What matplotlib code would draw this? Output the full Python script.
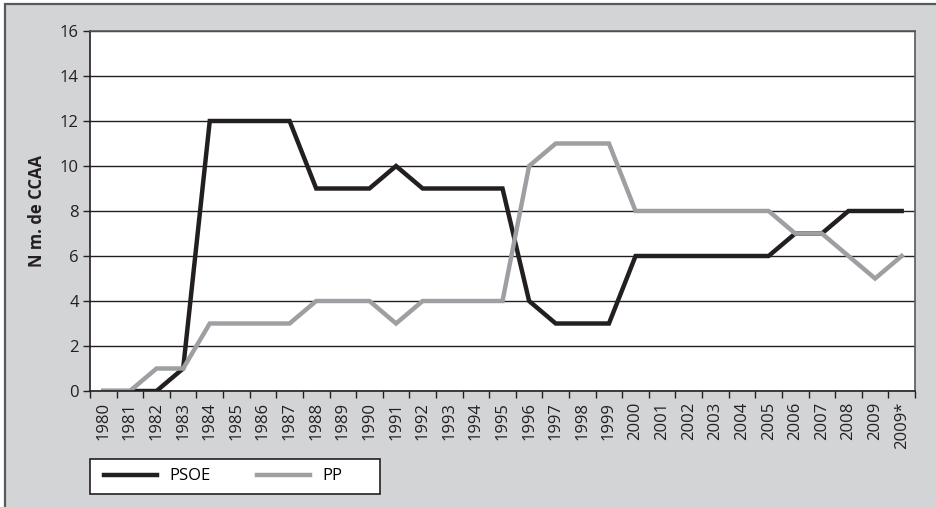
import matplotlib.pyplot as plt
from matplotlib.patches import Rectangle
import numpy as np

plt.rcParams['font.family'] = ['Open Sans', 'DejaVu Sans']

years = [str(y) for y in range(1980, 2010)] + ['2009*']
psoe = [0, 0, 0, 1, 12, 12, 12, 12, 9, 9, 9, 10, 9, 9, 9, 9, 4, 3, 3, 3,
        6, 6, 6, 6, 6, 6, 7, 7, 8, 8, 8]
pp = [0, 0, 1, 1, 3, 3, 3, 3, 4, 4, 4, 3, 4, 4, 4, 4, 10, 11, 11, 11,
      8, 8, 8, 8, 8, 8, 7, 7, 6, 5, 6]
yticks = [0, 2, 4, 6, 8, 10, 12, 14, 16]

W, H = 936, 507
fig = plt.figure(figsize=(W / 100, H / 100), dpi=100, facecolor='white')

# gray frame behind everything
fig.patches.append(Rectangle((4.5 / W, -0.02), 1.05, 1 - 3.5 / H + 0.02,
                             transform=fig.transFigure, facecolor='#d3d4d6',
                             edgecolor='#58595b', lw=1.6, zorder=-5))

ax = fig.add_axes([90 / W, 116 / H, 825 / W, 360 / H])
ax.set_facecolor('white')

x = np.arange(len(years))
ax.plot(x, psoe, color='#231f20', lw=3.2, label='PSOE', solid_joinstyle='miter')
ax.plot(x, pp, color='#9d9fa2', lw=3.2, label='PP', solid_joinstyle='miter')

ax.set_xlim(-0.5, len(years) - 0.5)
ax.set_ylim(0, 16)
ax.set_yticks(yticks)
ax.set_yticklabels([str(v) for v in yticks], fontsize=12, color='#231f20')
ax.yaxis.grid(True, color='#231f20', lw=1.0)
ax.set_axisbelow(True)

ax.set_xticks(x)
ax.set_xticklabels(years, rotation=90, fontsize=12, color='#231f20')
ax.set_xticks(np.arange(len(years) + 1) - 0.5, minor=True)
ax.tick_params(axis='x', which='major', length=0, pad=8)
ax.tick_params(axis='x', which='minor', length=5, width=1, color='#231f20')
ax.tick_params(axis='y', length=5, width=1, color='#231f20', pad=3)

for s in ['left', 'bottom']:
    ax.spines[s].set_color('#231f20')
    ax.spines[s].set_linewidth(1.2)
for s in ['top', 'right']:
    ax.spines[s].set_color('#58595b')
    ax.spines[s].set_linewidth(1.2)

ax.set_ylabel('N m. de CCAA', fontsize=12, fontweight='bold', color='#231f20', labelpad=10)

# legend box
fig.patches.append(Rectangle((90 / W, 13 / H), 290 / W, 35 / H,
                             transform=fig.transFigure, facecolor='white',
                             edgecolor='#231f20', lw=1.2, zorder=-1))
leg = ax.legend(bbox_to_anchor=(104 / W, 30.5 / H),
                bbox_transform=fig.transFigure, loc='center left',
                ncol=2, borderaxespad=0, borderpad=0, handlelength=3.2,
                handletextpad=0.7, columnspacing=2.8, fontsize=12,
                frameon=False)

fig.savefig('out.png', dpi=100, facecolor=fig.get_facecolor())
